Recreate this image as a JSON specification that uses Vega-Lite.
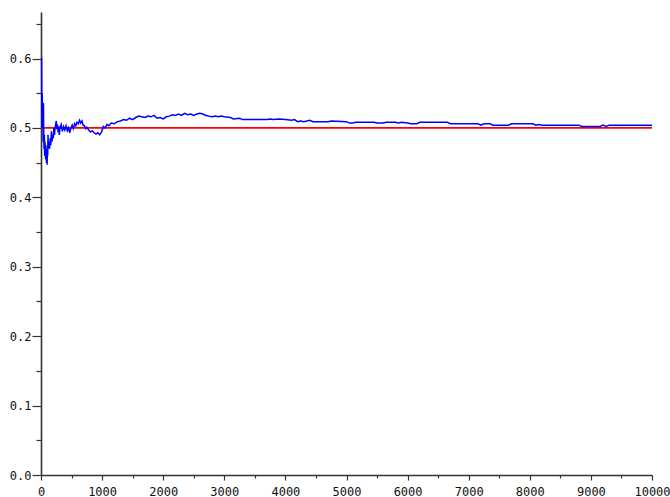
{
  "$schema": "https://vega.github.io/schema/vega-lite/v6.json",
  "width": 611,
  "height": 463,
  "autosize": {"type": "none"},
  "padding": {"left": 41, "top": 12, "right": 18, "bottom": 22},
  "background": "white",
  "config": {"view": {"stroke": null}},
  "datasets": {
    "walk": [
      {"n":1,"p":0.6},{"n":10,"p":0.6},{"n":15,"p":0.5},{"n":20,"p":0.55},{"n":25,"p":0.52},{"n":30,"p":0.533},{"n":35,"p":0.48},{"n":40,"p":0.536},{"n":45,"p":0.49},{"n":50,"p":0.47},{"n":55,"p":0.49},{"n":60,"p":0.46},{"n":65,"p":0.48},{"n":70,"p":0.47},{"n":75,"p":0.455},{"n":80,"p":0.475},{"n":85,"p":0.46},{"n":90,"p":0.45},{"n":95,"p":0.47},{"n":100,"p":0.447},{"n":105,"p":0.47},{"n":110,"p":0.46},{"n":115,"p":0.49},{"n":120,"p":0.47},{"n":130,"p":0.48},{"n":140,"p":0.47},{"n":150,"p":0.485},{"n":160,"p":0.475},{"n":170,"p":0.495},{"n":180,"p":0.48},{"n":190,"p":0.49},{"n":200,"p":0.485},{"n":210,"p":0.5},{"n":220,"p":0.49},{"n":230,"p":0.5},{"n":240,"p":0.505},{"n":250,"p":0.51},{"n":260,"p":0.498},{"n":270,"p":0.505},{"n":280,"p":0.494},{"n":290,"p":0.502},{"n":300,"p":0.49},{"n":310,"p":0.5},{"n":330,"p":0.505},{"n":350,"p":0.495},{"n":370,"p":0.502},{"n":390,"p":0.497},{"n":410,"p":0.503},{"n":430,"p":0.496},{"n":450,"p":0.5},{"n":470,"p":0.493},{"n":490,"p":0.5},{"n":510,"p":0.504},{"n":530,"p":0.499},{"n":550,"p":0.506},{"n":570,"p":0.503},{"n":590,"p":0.508},{"n":610,"p":0.506},{"n":630,"p":0.511},{"n":650,"p":0.507},{"n":670,"p":0.51},{"n":690,"p":0.504},{"n":710,"p":0.503},{"n":730,"p":0.499},{"n":750,"p":0.501},{"n":780,"p":0.497},{"n":810,"p":0.494},{"n":840,"p":0.496},{"n":870,"p":0.493},{"n":900,"p":0.491},{"n":930,"p":0.493},{"n":960,"p":0.49},{"n":990,"p":0.494},{"n":1020,"p":0.502},{"n":1050,"p":0.5},{"n":1080,"p":0.505},{"n":1110,"p":0.503},{"n":1150,"p":0.507},{"n":1200,"p":0.506},{"n":1250,"p":0.509},{"n":1300,"p":0.51},{"n":1350,"p":0.512},{"n":1400,"p":0.511},{"n":1450,"p":0.514},{"n":1500,"p":0.512},{"n":1550,"p":0.515},{"n":1600,"p":0.517},{"n":1650,"p":0.516},{"n":1700,"p":0.515},{"n":1750,"p":0.517},{"n":1800,"p":0.516},{"n":1850,"p":0.518},{"n":1900,"p":0.514},{"n":1950,"p":0.515},{"n":2000,"p":0.513},{"n":2050,"p":0.516},{"n":2100,"p":0.517},{"n":2150,"p":0.519},{"n":2200,"p":0.518},{"n":2250,"p":0.52},{"n":2300,"p":0.518},{"n":2350,"p":0.521},{"n":2400,"p":0.519},{"n":2450,"p":0.52},{"n":2500,"p":0.518},{"n":2550,"p":0.52},{"n":2600,"p":0.521},{"n":2650,"p":0.52},{"n":2700,"p":0.518},{"n":2750,"p":0.517},{"n":2800,"p":0.516},{"n":2850,"p":0.517},{"n":2900,"p":0.516},{"n":2950,"p":0.517},{"n":3000,"p":0.516},{"n":3100,"p":0.515},{"n":3150,"p":0.513},{"n":3250,"p":0.514},{"n":3300,"p":0.512},{"n":3500,"p":0.512},{"n":3700,"p":0.512},{"n":3750,"p":0.513},{"n":3800,"p":0.512},{"n":3900,"p":0.513},{"n":4000,"p":0.512},{"n":4100,"p":0.511},{"n":4150,"p":0.512},{"n":4200,"p":0.509},{"n":4250,"p":0.51},{"n":4300,"p":0.509},{"n":4400,"p":0.511},{"n":4450,"p":0.509},{"n":4700,"p":0.509},{"n":4750,"p":0.51},{"n":5000,"p":0.509},{"n":5050,"p":0.507},{"n":5100,"p":0.507},{"n":5150,"p":0.508},{"n":5450,"p":0.508},{"n":5500,"p":0.507},{"n":5600,"p":0.507},{"n":5650,"p":0.508},{"n":5800,"p":0.508},{"n":5850,"p":0.507},{"n":5900,"p":0.508},{"n":6000,"p":0.507},{"n":6050,"p":0.506},{"n":6150,"p":0.506},{"n":6200,"p":0.508},{"n":6650,"p":0.508},{"n":6700,"p":0.506},{"n":7150,"p":0.506},{"n":7200,"p":0.504},{"n":7250,"p":0.506},{"n":7350,"p":0.506},{"n":7400,"p":0.504},{"n":7650,"p":0.504},{"n":7700,"p":0.506},{"n":8050,"p":0.506},{"n":8100,"p":0.504},{"n":8150,"p":0.505},{"n":8200,"p":0.504},{"n":8800,"p":0.504},{"n":8850,"p":0.502},{"n":9150,"p":0.502},{"n":9200,"p":0.504},{"n":9250,"p":0.502},{"n":9300,"p":0.504},{"n":10000,"p":0.504}
    ],
    "ref": [{"n":0,"p":0.5},{"n":10000,"p":0.5}]
  },
  "encoding": {
    "x": {
      "field": "n", "type": "quantitative",
      "scale": {"domain": [0, 10000], "nice": false, "zero": false},
      "axis": {
        "title": null, "grid": false,
        "values": [0,500,1000,1500,2000,2500,3000,3500,4000,4500,5000,5500,6000,6500,7000,7500,8000,8500,9000,9500,10000],
        "labelExpr": "datum.value % 1000 == 0 ? format(datum.value, 'd') : ''",
        "tickSize": {"condition": {"test": "datum.value % 1000 == 0", "value": 5}, "value": 3},
        "domainColor": "#333333", "domainWidth": 1.6, "tickColor": "#333333", "tickWidth": 1.2,
        "labelFont": "DejaVu Sans Mono", "labelFontSize": 12, "labelColor": "#111111", "labelPadding": 6,
        "labelFlush": false, "labelOverlap": false
      }
    },
    "y": {
      "field": "p", "type": "quantitative",
      "scale": {"domain": [0, 0.667], "nice": false, "zero": false},
      "axis": {
        "title": null, "grid": false,
        "values": [0,0.05,0.1,0.15,0.2,0.25,0.3,0.35,0.4,0.45,0.5,0.55,0.6,0.65],
        "labelExpr": "round(datum.value*100) % 10 == 0 ? format(datum.value, '.1f') : ''",
        "tickSize": {"condition": {"test": "round(datum.value*100) % 10 == 0", "value": 9}, "value": 5},
        "domainColor": "#333333", "domainWidth": 1.6, "tickColor": "#333333", "tickWidth": 1.2,
        "labelFont": "DejaVu Sans Mono", "labelFontSize": 12, "labelColor": "#111111", "labelPadding": 1,
        "labelFlush": false, "labelOverlap": false
      }
    }
  },
  "layer": [
    {"data": {"name": "ref"}, "mark": {"type": "line", "color": "#ff0000", "strokeWidth": 1.6}},
    {"data": {"name": "walk"}, "mark": {"type": "line", "color": "#0000ff", "strokeWidth": 1.5}}
  ]
}
